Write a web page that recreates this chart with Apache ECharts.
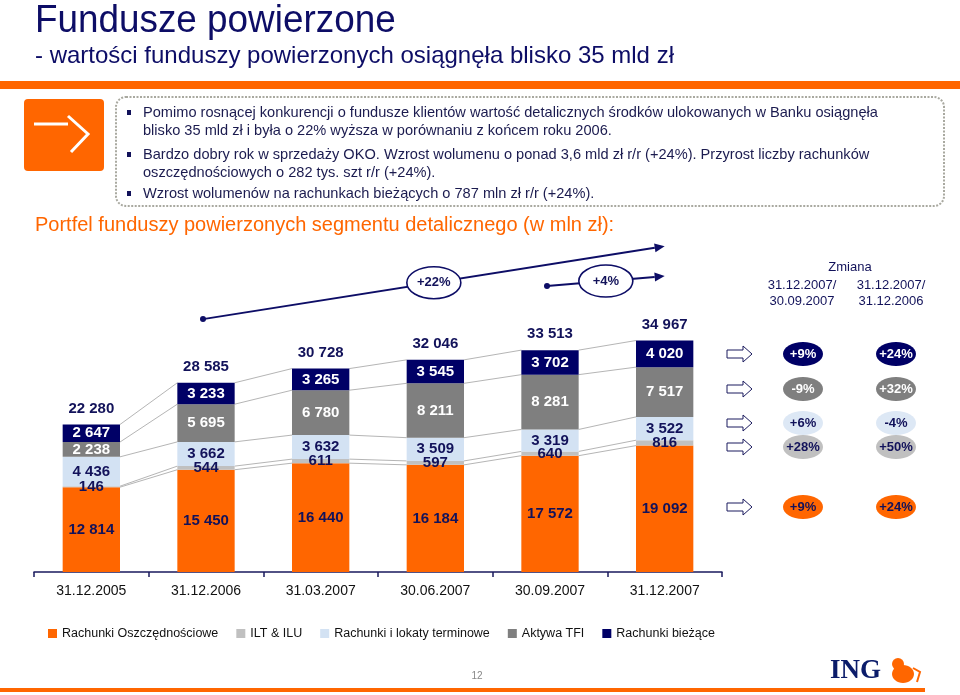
<!DOCTYPE html>
<html><head><meta charset="utf-8">
<script src="https://cdn.jsdelivr.net/npm/echarts@6/dist/echarts.min.js"></script>
<style>html,body{margin:0;padding:0;background:#fff}#c{width:960px;height:695px}</style>
</head><body><div id="c"></div>
<script>
const categories = ['31.12.2005','31.12.2006','31.03.2007','30.06.2007','30.09.2007','31.12.2007'];
const seriesNames = ['Rachunki Oszczędnościowe','ILT & ILU','Rachunki i lokaty terminowe','Aktywa TFI','Rachunki bieżące'];
const oszczednosciowe = [12814, 15450, 16440, 16184, 17572, 19092];
const iltIlu = [146, 544, 611, 597, 640, 816];
const terminowe = [4436, 3662, 3632, 3509, 3319, 3522];
const aktywaTfi = [2238, 5695, 6780, 8211, 8281, 7517];
const biezace = [2647, 3233, 3265, 3545, 3702, 4020];
const totals = [22280, 28585, 30728, 32046, 33513, 34967];
const growthLabels = ['+22%', '+4%'];
const changeHeaders = ['31.12.2007/\n30.09.2007', '31.12.2007/\n31.12.2006'];
const changeQ = ['+9%', '-9%', '+6%', '+28%', '+9%'];
const changeY = ['+24%', '+32%', '-4%', '+50%', '+24%'];
const bullets = [
  'Pomimo rosnącej konkurencji o fundusze klientów wartość detalicznych środków ulokowanych w Banku osiągnęła',
  'blisko 35 mld zł i była o 22% wyższa w porównaniu z końcem roku 2006.',
  'Bardzo dobry rok w sprzedaży OKO. Wzrost wolumenu o ponad 3,6 mld zł r/r (+24%). Przyrost liczby rachunków',
  'oszczędnościowych o 282 tys. szt r/r (+24%).',
  'Wzrost wolumenów na rachunkach bieżących o 787 mln zł r/r (+24%).'
];

const FONT = 'Arial, "Liberation Sans", sans-serif';
const NAVY = '#0d0d66';
const TXT = '#12125a';
const colors = ['#ff6600', '#c0c0c0', '#d3e2f3', '#7f7f7f', '#000066'];
const labelColors = [TXT, TXT, TXT, '#ffffff', '#ffffff'];
const seriesData = [oszczednosciowe, iltIlu, terminowe, aktywaTfi, biezace];

function fmt(v) { return String(v).replace(/\B(?=(\d{3})+(?!\d))/g, ' '); }

// cumulative levels for connector lines
const cum = [];
let run = categories.map(() => 0);
seriesData.forEach(d => { run = run.map((r, i) => r + d[i]); cum.push(run.slice()); });

const chart = echarts.init(document.getElementById('c'), null, { renderer: 'canvas' });

const barSeries = seriesData.map((d, k) => ({
  name: seriesNames[k], type: 'bar', stack: 'total', data: d,
  barCategoryGap: '50%', z: 3, silent: true,
  itemStyle: { color: colors[k] },
  label: { show: true, position: 'inside', formatter: p => fmt(p.value),
    color: labelColors[k], fontSize: 15, fontWeight: 'bold', fontFamily: FONT }
}));

const growthCfg = [
  { from: 1, to: 5, y1: 38200, y2: 49200 },
  { from: 4, to: 5, y1: 43200, y2: 44700 }
];

const graphics = [];
// top orange band
graphics.push({ type: 'rect', shape: { x: 0, y: 81, width: 960, height: 8 }, style: { fill: '#ff6600' } });
// title
graphics.push({ type: 'text', x: 35, y: 22, scaleX: 0.97, style: { text: 'Fundusze powierzone', font: '38px ' + FONT, fill: NAVY, verticalAlign: 'middle' } });
graphics.push({ type: 'text', x: 35, y: 56, style: { text: '- wartości funduszy powierzonych osiągnęła blisko 35 mld zł', font: '24px ' + FONT, fill: NAVY, verticalAlign: 'middle' } });
// orange box with arrow
graphics.push({ type: 'rect', shape: { x: 24, y: 99, width: 80, height: 72, r: 4 }, style: { fill: '#ff6600' } });
graphics.push({ type: 'polyline', shape: { points: [[34, 124], [68, 124]] }, style: { stroke: '#fff', lineWidth: 3 } });
graphics.push({ type: 'polyline', shape: { points: [[68, 116], [88, 134], [71, 152]] }, style: { stroke: '#fff', lineWidth: 3 } });
// bullet box
graphics.push({ type: 'rect', shape: { x: 116, y: 97, width: 828, height: 109, r: 10 }, style: { fill: '#fff', stroke: '#a9a9a0', lineWidth: 2, lineDash: [2, 1.5] } });
const bulletY = [113, 131, 155, 173, 194];
const bulletMark = [true, false, true, false, true];
bullets.forEach((t, i) => {
  if (bulletMark[i]) graphics.push({ type: 'rect', shape: { x: 127, y: bulletY[i] - 3, width: 4, height: 5 }, style: { fill: TXT } });
  graphics.push({ type: 'text', x: 143, y: bulletY[i], style: { text: t, font: '14.6px ' + FONT, fill: '#1b1b4f', verticalAlign: 'middle' } });
});
// chart heading
graphics.push({ type: 'text', x: 35, y: 225, style: { text: 'Portfel funduszy powierzonych segmentu detalicznego (w mln zł):', font: '20px ' + FONT, fill: '#ff6600', verticalAlign: 'middle' } });
// change table header
graphics.push({ type: 'text', x: 850, y: 267, style: { text: 'Zmiana', font: '13px ' + FONT, fill: TXT, align: 'center', verticalAlign: 'middle' } });
[802, 891].forEach((cx, j) => {
  graphics.push({ type: 'text', x: cx, y: 293, style: { text: changeHeaders[j], font: '13px ' + FONT, fill: TXT, align: 'center', verticalAlign: 'middle', lineHeight: 16 } });
});
const rowY = [354, 389, 423, 447, 507];
const rowFill = ['#000066', '#7f7f7f', '#dde8f5', '#c0c0c0', '#ff6600'];
const rowText = ['#fff', '#fff', TXT, TXT, TXT];
rowY.forEach((y, r) => {
  graphics.push({ type: 'polygon', shape: { points: [[727, y - 4], [743, y - 4], [743, y - 8], [752, y], [743, y + 8], [743, y + 4], [727, y + 4]] }, style: { fill: '#fff', stroke: '#1a1a5e', lineWidth: 1 } });
  [[803, changeQ[r]], [896, changeY[r]]].forEach(([cx, t]) => {
    graphics.push({ type: 'ellipse', shape: { cx: cx, cy: y, rx: 20, ry: 12 }, style: { fill: rowFill[r] } });
    graphics.push({ type: 'text', x: cx, y: y, style: { text: t, font: 'bold 13px ' + FONT, fill: rowText[r], align: 'center', verticalAlign: 'middle' } });
  });
});
// footer
graphics.push({ type: 'rect', shape: { x: 0, y: 688, width: 925, height: 4 }, style: { fill: '#ff6600' } });
graphics.push({ type: 'text', x: 477, y: 676, style: { text: '12', font: '10px ' + FONT, fill: '#888', align: 'center', verticalAlign: 'middle' } });
graphics.push({ type: 'text', x: 830, y: 671, style: { text: 'ING', font: 'bold 27px "Liberation Serif", "Times New Roman", serif', fill: '#0b1c6a', verticalAlign: 'middle' } });
graphics.push({ type: 'ellipse', shape: { cx: 903, cy: 674, rx: 11, ry: 9 }, style: { fill: '#ff6600' } });
graphics.push({ type: 'circle', shape: { cx: 898, cy: 664, r: 6 }, style: { fill: '#ff6600' } });
graphics.push({ type: 'polyline', shape: { points: [[913, 668], [920, 672], [917, 682]] }, style: { stroke: '#ff6600', lineWidth: 2 } });

const option = {
  animation: false,
  backgroundColor: '#fff',
  grid: { left: 34, right: 238, top: 241, bottom: 123, containLabel: false },
  legend: {
    data: seriesNames, left: 43, top: 622, icon: 'rect', itemWidth: 9, itemHeight: 9, itemGap: 18,
    selectedMode: false, textStyle: { fontSize: 12.5, color: '#111', fontFamily: FONT }
  },
  xAxis: {
    type: 'category', data: categories,
    axisLine: { lineStyle: { color: '#1a1a5e', width: 1.5 } },
    axisTick: { show: true, length: 5, lineStyle: { color: '#1a1a5e', width: 1.5 } },
    axisLabel: { color: '#111', fontSize: 14, margin: 12, fontFamily: FONT }
  },
  yAxis: { type: 'value', min: 0, max: 50000, show: false },
  graphic: graphics,
  series: [
    {
      type: 'custom', name: 'connectors', silent: true, z: 1,
      data: categories.slice(0, -1).map((c, i) => [i, 0]),
      renderItem: (params, api) => {
        const i = params.dataIndex;
        const half = api.size([1, 0])[0] * 0.25;
        return {
          type: 'group',
          children: cum.map(level => {
            const a = api.coord([i, level[i]]);
            const b = api.coord([i + 1, level[i + 1]]);
            return { type: 'line', shape: { x1: a[0] + half, y1: a[1], x2: b[0] - half, y2: b[1] }, style: { stroke: '#b5b5b5', lineWidth: 1 } };
          })
        };
      }
    },
    ...barSeries,
    {
      type: 'custom', name: 'totals', silent: true, z: 5,
      data: totals.map((t, i) => [i, t]),
      renderItem: (params, api) => {
        const p = api.coord([params.dataIndex, totals[params.dataIndex]]);
        return { type: 'text', style: { text: fmt(totals[params.dataIndex]), x: p[0], y: p[1] - 16, align: 'center', verticalAlign: 'middle', fill: TXT, font: 'bold 15px ' + FONT } };
      }
    },
    {
      type: 'custom', name: 'growth', silent: true, z: 6,
      data: growthLabels.map((g, i) => [growthCfg[i].from, growthCfg[i].y1]),
      renderItem: (params, api) => {
        const g = growthCfg[params.dataIndex];
        const a = api.coord([g.from, g.y1]);
        const b = api.coord([g.to, g.y2]);
        a[0] -= 3;
        const dx = b[0] - a[0], dy = b[1] - a[1];
        const len = Math.sqrt(dx * dx + dy * dy);
        const ux = dx / len, uy = dy / len;
        const bx = b[0] - ux * 10, by = b[1] - uy * 10;
        const mx = (a[0] + b[0]) / 2, my = (a[1] + b[1]) / 2;
        return {
          type: 'group',
          children: [
            { type: 'line', shape: { x1: a[0], y1: a[1], x2: bx, y2: by }, style: { stroke: '#0d0d66', lineWidth: 2 } },
            { type: 'circle', shape: { cx: a[0], cy: a[1], r: 3 }, style: { fill: '#0d0d66' } },
            { type: 'polygon', shape: { points: [[b[0], b[1]], [bx - uy * 4.5, by + ux * 4.5], [bx + uy * 4.5, by - ux * 4.5]] }, style: { fill: '#0d0d66' } },
            { type: 'ellipse', shape: { cx: mx, cy: my, rx: 27, ry: 16 }, style: { fill: '#fff', stroke: '#0d0d66', lineWidth: 1.6 } },
            { type: 'text', style: { text: growthLabels[params.dataIndex], x: mx, y: my, align: 'center', verticalAlign: 'middle', fill: TXT, font: 'bold 13px ' + FONT } }
          ]
        };
      }
    }
  ]
};
chart.setOption(option);
</script>
</body></html>
